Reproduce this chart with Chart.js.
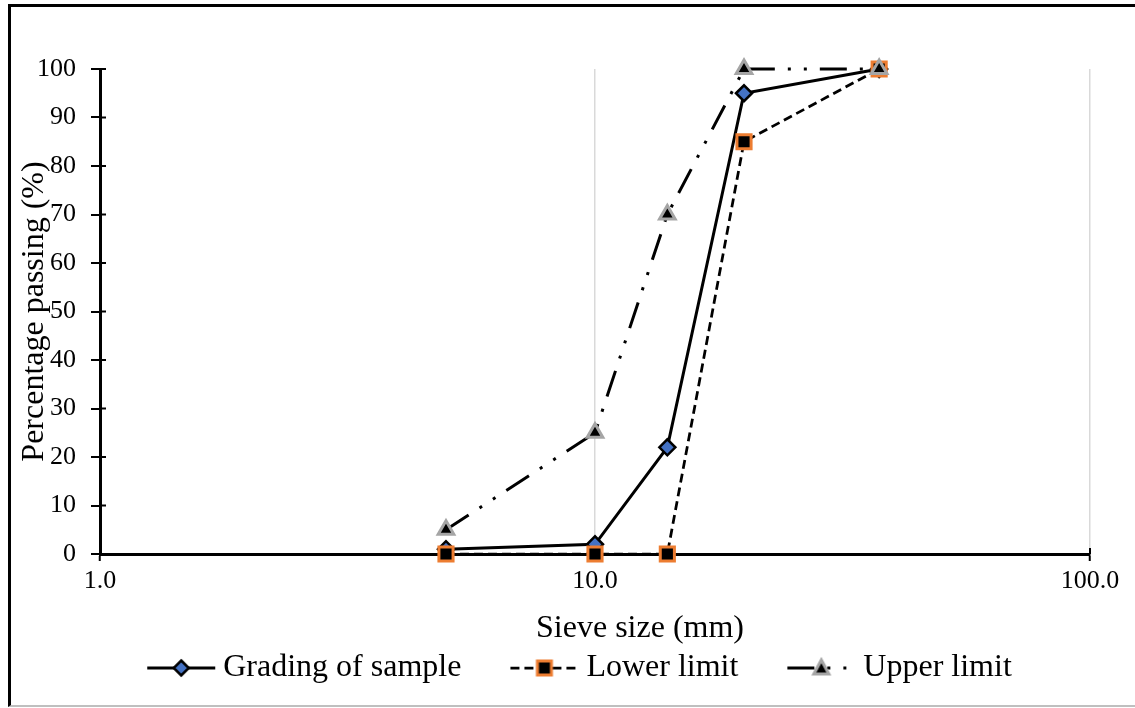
<!DOCTYPE html>
<html>
<head>
<meta charset="utf-8">
<script src="https://cdn.jsdelivr.net/npm/chart.js@4.4.0/dist/chart.umd.min.js"></script>
<style>
  body { margin: 0; background: #fff; }
  #wrap { position: relative; width: 1135px; height: 708px; }
  #frame {
    position: absolute; left: 8px; top: 4px; right: 0; bottom: 1px;
    border-left: 3px solid #000; border-top: 3px solid #000; border-bottom: 2px solid #bfbfbf;
    pointer-events: none;
  }
</style>
</head>
<body>
<div id="wrap">
  <canvas id="chart" width="1135" height="708"></canvas>
  <div id="frame"></div>
</div>
<script>
// sieve sizes in mm and % passing
const sieveSizes = [5, 10, 14, 20, 37.5];
const gradingSample = [1, 2, 22, 95, 100];
const lowerLimit = [0, 0, 0, 85, 100];
const upperLimit = [5, 25, 70, 100, 100];
const xTickValues = [1, 10, 100];
const seriesNames = ["Grading of sample", "Lower limit", "Upper limit"];
const xTitle = "Sieve size (mm)";
const yTitle = "Percentage passing (%)";

const serif = "'Liberation Serif', 'Times New Roman', serif";

function toPoints(values) {
  return sieveSizes.map((s, i) => ({ x: s, y: values[i] }));
}

// little picture for the legend: line + marker, marker shifted right
function legendIcon(ds) {
  let c = document.createElement("canvas");
  c.width = 117;
  c.height = 26;
  let ctx = c.getContext("2d");
  let cx = c.width / 2 + 23.5;
  let cy = c.height / 2;
  ctx.strokeStyle = "#000";
  ctx.lineWidth = ds.borderWidth;
  ctx.setLineDash(ds.borderDash || []);
  ctx.beginPath();
  ctx.moveTo(cx - 34, cy);
  ctx.lineTo(cx + 34, cy);
  ctx.stroke();
  ctx.setLineDash([]);
  ctx.fillStyle = ds.pointBackgroundColor;
  ctx.strokeStyle = ds.pointBorderColor;
  ctx.lineWidth = ds.pointBorderWidth;
  ctx.beginPath();
  if (ds.pointStyle == "rectRot") {
    let r = 7.5;
    ctx.moveTo(cx, cy - r);
    ctx.lineTo(cx + r, cy);
    ctx.lineTo(cx, cy + r);
    ctx.lineTo(cx - r, cy);
    ctx.closePath();
  } else if (ds.pointStyle == "rect") {
    ctx.rect(cx - 7, cy - 7, 14, 14);
  } else {
    ctx.moveTo(cx, cy - 8);
    ctx.lineTo(cx + 7.5, cy + 6);
    ctx.lineTo(cx - 7.5, cy + 6);
    ctx.closePath();
  }
  ctx.fill();
  ctx.stroke();
  return c;
}

// cross ticks (inner half) + x title placed like the original
const extras = {
  id: "extras",
  afterLayout(chart) {
    // legend sits a bit right of centre in the original
    chart.legend.left += 15;
    chart.legend.right += 15;
  },
  beforeDatasetsDraw(chart) {
    let ctx = chart.ctx;
    let xs = chart.scales.x;
    let ys = chart.scales.y;
    ctx.save();
    ctx.strokeStyle = "#000";
    ctx.lineWidth = 2;
    ys.ticks.forEach((t) => {
      let y = ys.getPixelForValue(t.value);
      ctx.beginPath();
      ctx.moveTo(ys.right, y);
      ctx.lineTo(ys.right + 6, y);
      ctx.stroke();
    });
    xs.ticks.forEach((t) => {
      let x = xs.getPixelForValue(t.value);
      ctx.beginPath();
      ctx.moveTo(x, xs.top);
      ctx.lineTo(x, xs.top - 6);
      ctx.stroke();
    });
    ctx.restore();
  },
  afterDraw(chart) {
    let ctx = chart.ctx;
    let xs = chart.scales.x;
    ctx.save();
    ctx.fillStyle = "#000";
    ctx.font = "32px " + serif;
    ctx.textAlign = "center";
    ctx.textBaseline = "middle";
    ctx.fillText(xTitle, (xs.left + xs.right) / 2 + 45, xs.top + 75);
    ctx.restore();
  },
};

let datasets = [
  {
    label: seriesNames[0],
    data: toPoints(gradingSample),
    borderColor: "#000",
    borderWidth: 3,
    pointStyle: "rectRot",
    pointRadius: 8,
    pointBackgroundColor: "#4472c4",
    pointBorderColor: "#000",
    pointBorderWidth: 2.5,
    order: 3,
  },
  {
    label: seriesNames[1],
    data: toPoints(lowerLimit),
    borderColor: "#000",
    borderWidth: 2.75,
    borderDash: [9, 5],
    pointStyle: "rect",
    pointRadius: 10,
    pointBackgroundColor: "#000",
    pointBorderColor: "#ed7d31",
    pointBorderWidth: 3,
    order: 2,
  },
  {
    label: seriesNames[2],
    data: toPoints(upperLimit),
    borderColor: "#000",
    borderWidth: 3,
    borderDash: [27, 13, 3, 13, 3, 13],
    pointStyle: "triangle",
    pointRadius: 9,
    pointBackgroundColor: "#000",
    pointBorderColor: "#a5a5a5",
    pointBorderWidth: 3,
    order: 1,
  },
];
datasets.forEach((d) => {
  d.fill = false;
  d.tension = 0;
  d.clip = false;
  d.pointHoverRadius = d.pointRadius;
});

let chart = new Chart(document.getElementById("chart"), {
  type: "line",
  data: { datasets: datasets },
  plugins: [extras],
  options: {
    responsive: false,
    animation: false,
    devicePixelRatio: 1,
    layout: { padding: { top: 69, right: 45, left: 0, bottom: 14 } },
    plugins: {
      tooltip: { enabled: false },
      legend: {
        position: "bottom",
        labels: {
          usePointStyle: true,
          pointStyleWidth: 99,
          padding: 10,
          color: "#000",
          font: { family: serif, size: 32 },
          generateLabels: (ch) =>
            ch.data.datasets.map((ds, i) => ({
              text: ds.label,
              pointStyle: legendIcon(ds),
              fillStyle: "#000",
              strokeStyle: "#000",
              lineWidth: 0,
              datasetIndex: i,
              hidden: false,
            })),
        },
      },
    },
    scales: {
      x: {
        type: "logarithmic",
        position: "bottom",
        min: 1,
        max: 100,
        afterBuildTicks: (scale) => {
          scale.ticks = xTickValues.map((v) => ({ value: v }));
        },
        afterFit: (scale) => {
          scale.height = 88;
        },
        ticks: {
          autoSkip: false,
          maxRotation: 0,
          padding: 5,
          color: "#000",
          font: { family: serif, size: 26 },
          callback: (v) => Number(v).toFixed(1),
        },
        grid: {
          color: (c) => (c.tick && c.tick.value === 1 ? "rgba(0,0,0,0)" : "#d9d9d9"),
          lineWidth: 1.5,
          tickColor: "#000",
          tickWidth: 2,
          tickLength: 7,
        },
        border: { color: "#000", width: 3 },
      },
      y: {
        type: "linear",
        min: 0,
        max: 100,
        afterFit: (scale) => {
          scale.width = 100;
        },
        ticks: {
          stepSize: 10,
          padding: 15,
          color: "#000",
          font: { family: serif, size: 26 },
        },
        grid: {
          drawOnChartArea: false,
          color: "#000",
          lineWidth: 2,
          tickLength: 9,
        },
        border: { color: "#000", width: 3 },
        title: {
          display: true,
          text: yTitle,
          color: "#000",
          font: { family: serif, size: 32 },
          padding: { top: 15, bottom: 0 },
        },
      },
    },
  },
});
</script>
</body>
</html>
